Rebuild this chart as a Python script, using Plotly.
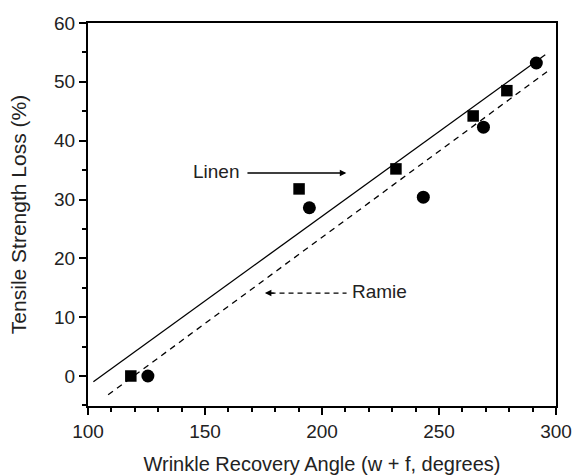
import plotly.graph_objects as go

# Data
linen_x = [118.3, 190.2, 231.6, 264.6, 279.0]
linen_y = [0.0, 31.8, 35.2, 44.2, 48.5]
ramie_x = [125.6, 194.6, 243.3, 269.0, 291.6]
ramie_y = [0.0, 28.6, 30.4, 42.3, 53.2]
# regression line end points
linen_fit_x = [102.3, 295.4]
linen_fit_y = [-0.97, 54.6]
ramie_fit_x = [108.6, 297.8]
ramie_fit_y = [-3.2, 52.2]

x_ticks = [100, 150, 200, 250, 300]
y_ticks = [0, 10, 20, 30, 40, 50, 60]

FONT = "Liberation Sans, Arial, sans-serif"
TXT = "#222222"

fig = go.Figure()
fig.add_trace(go.Scatter(x=linen_fit_x, y=linen_fit_y, mode="lines",
                         line=dict(color="black", width=1.3), showlegend=False))
fig.add_trace(go.Scatter(x=ramie_fit_x, y=ramie_fit_y, mode="lines",
                         line=dict(color="black", width=1.3, dash="6px,5px"), showlegend=False))
fig.add_trace(go.Scatter(x=linen_x, y=linen_y, mode="markers",
                         marker=dict(symbol="square", size=11.5, color="black"), showlegend=False))
fig.add_trace(go.Scatter(x=ramie_x, y=ramie_y, mode="markers",
                         marker=dict(symbol="circle", size=13, color="black"), showlegend=False))

# Linen label with solid arrow
fig.add_annotation(x=210.4, y=34.5, ax=167.5, ay=34.5, axref="x", ayref="y",
                   xref="x", yref="y", showarrow=True, arrowhead=2, arrowsize=1,
                   arrowwidth=1.3, arrowcolor="black", text="")
fig.add_annotation(x=165.8, y=34.8, xref="x", yref="y", text="Linen", showarrow=False,
                   xanchor="right", font=dict(family=FONT, size=19, color=TXT))

# Ramie label with dashed arrow
fig.add_shape(type="line", x0=178, y0=14.1, x1=210.5, y1=14.1, xref="x", yref="y",
              line=dict(color="black", width=1.3, dash="5px,4px"))
fig.add_annotation(x=175.6, y=14.1, ax=180, ay=14.1, axref="x", ayref="y",
                   xref="x", yref="y", showarrow=True, arrowhead=2, arrowsize=1,
                   arrowwidth=1.3, arrowcolor="black", text="")
fig.add_annotation(x=211.8, y=14.4, xref="x", yref="y", text="Ramie", showarrow=False,
                   xanchor="left", font=dict(family=FONT, size=19, color=TXT))

axis_common = dict(showline=True, linecolor="black", linewidth=2, mirror=True,
                   ticks="outside", ticklen=7, tickwidth=2, tickcolor="black",
                   showgrid=False, zeroline=False, automargin=False,
                   tickfont=dict(family=FONT, size=19, color=TXT))

fig.update_xaxes(range=[100, 300], tickvals=x_ticks,
                 minor=dict(ticks="outside", dtick=10, tick0=100, ticklen=4, tickwidth=2, tickcolor="black"),
                 title=dict(text="Wrinkle Recovery Angle (w + f, degrees)", standoff=16,
                            font=dict(family=FONT, size=20, color=TXT)),
                 **axis_common)
fig.update_yaxes(range=[-5.1, 60], tickvals=y_ticks,
                 minor=dict(ticks="outside", dtick=5, tick0=0, ticklen=4, tickwidth=2, tickcolor="black"),
                 title=dict(text="Tensile Strength Loss (%)", standoff=22,
                            font=dict(family=FONT, size=21, color=TXT)),
                 **axis_common)

fig.update_layout(width=576, height=476, plot_bgcolor="white", paper_bgcolor="white",
                  margin=dict(l=88, r=20, t=23, b=70))

fig.write_html("out.html")
